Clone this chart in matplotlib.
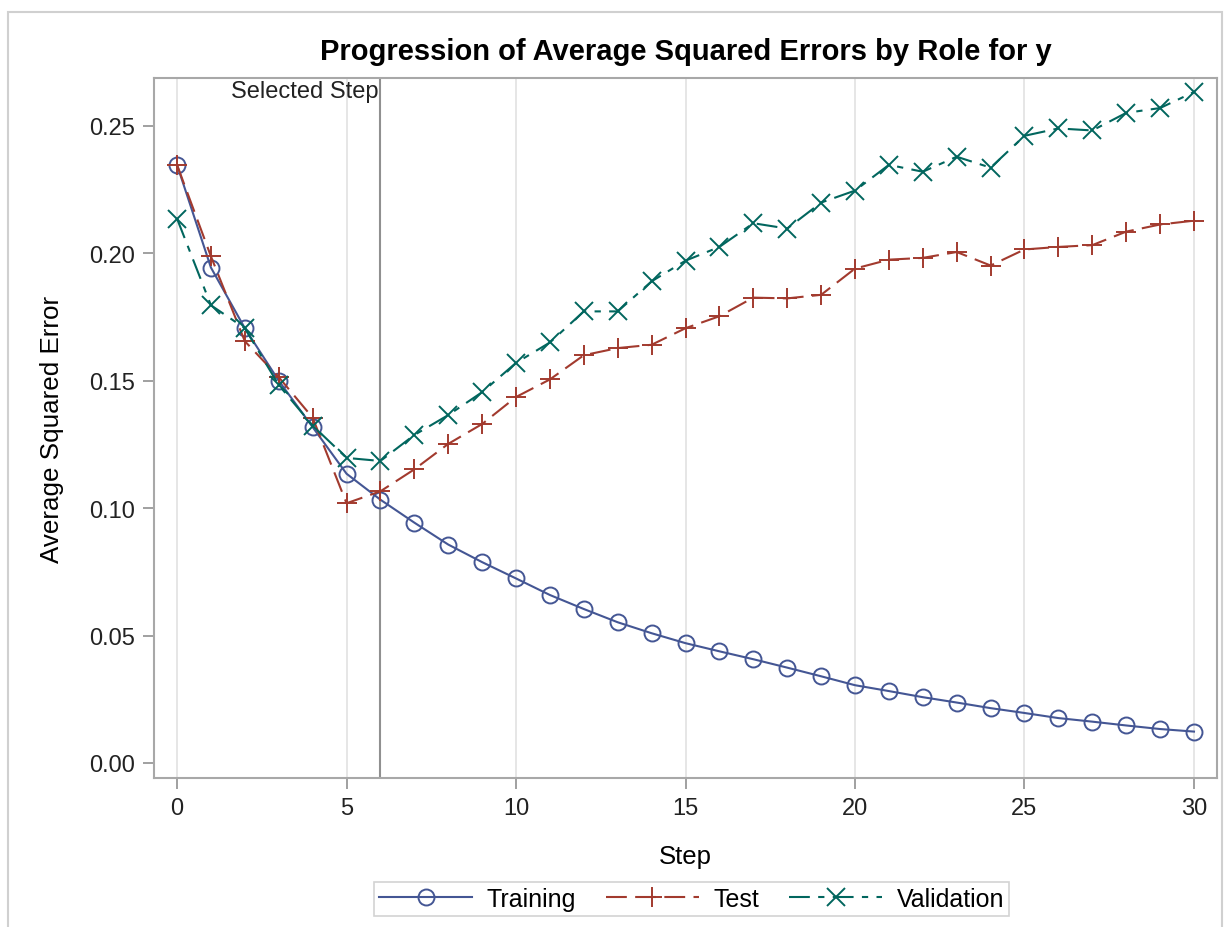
import matplotlib
matplotlib.use("Agg")
import matplotlib.pyplot as plt
from matplotlib.patches import Rectangle

plt.rcParams['font.family'] = ['Liberation Sans', 'DejaVu Sans']

# data
steps = list(range(31))
training = [0.2347, 0.1944, 0.1706, 0.1500, 0.1318, 0.1135, 0.1033, 0.0943, 0.0857,
            0.0788, 0.0724, 0.0659, 0.0604, 0.0552, 0.0509, 0.0470, 0.0438, 0.0407,
            0.0374, 0.0340, 0.0305, 0.0282, 0.0258, 0.0237, 0.0215, 0.0196, 0.0176,
            0.0162, 0.0147, 0.0133, 0.0123]
test = [0.2347, 0.1988, 0.1655, 0.1514, 0.1355, 0.1019, 0.1066, 0.1152, 0.1252,
        0.1330, 0.1436, 0.1505, 0.1600, 0.1628, 0.1641, 0.1706, 0.1753, 0.1826,
        0.1823, 0.1837, 0.1940, 0.1975, 0.1982, 0.2005, 0.1952, 0.2015, 0.2025,
        0.2032, 0.2085, 0.2113, 0.2128]
validation = [0.2136, 0.1796, 0.1706, 0.1483, 0.1324, 0.1197, 0.1185, 0.1287, 0.1365,
              0.1455, 0.1570, 0.1650, 0.1772, 0.1772, 0.1890, 0.1971, 0.2025, 0.2118,
              0.2097, 0.2199, 0.2246, 0.2347, 0.2320, 0.2379, 0.2336, 0.2461, 0.2490,
              0.2482, 0.2551, 0.2570, 0.2633]
selected_step = 6

x_ticks = [0, 5, 10, 15, 20, 25, 30]
y_ticks = [0.00, 0.05, 0.10, 0.15, 0.20, 0.25]

fig = plt.figure(figsize=(12.25, 9.28), dpi=100)
ax = fig.add_axes([0.1257, 0.1606, 0.8678, 0.7543])

# outer frame of the graph
fig.patches.append(Rectangle((8 / 1225, -0.02), 1214 / 1225, 1.02 - 13 / 928,
                             transform=fig.transFigure, fill=False,
                             edgecolor='#D0D0D0', linewidth=1.5))

ax.plot(steps, training, color='#445694', linestyle='-', linewidth=1.5,
        marker='o', markersize=11.5, markerfacecolor='none', markeredgewidth=1.4,
        label='Training', zorder=3)
ax.plot(steps, test, color='#A23A2E', linestyle=(0, (10, 4)), linewidth=1.5,
        marker='+', markersize=15, markeredgewidth=1.4, label='Test', zorder=3)
ax.plot(steps, validation, color='#01665E', linestyle=(0, (10, 4, 3, 4)), linewidth=1.5,
        marker='x', markersize=12.5, markeredgewidth=1.4, label='Validation', zorder=3)

ax.axvline(selected_step, color='#909090', linewidth=1.5, zorder=2)
ax.text(selected_step - 0.05, 0.2680, 'Selected Step', ha='right', va='top',
        fontsize=17, color='#222222')

ax.set_xlim(-0.68, 30.68)
ax.set_ylim(-0.0059, 0.2688)
ax.set_xticks(x_ticks)
ax.set_yticks(y_ticks)
ax.set_yticklabels([f'{v:.2f}' for v in y_ticks])
ax.grid(axis='x', color='#E2E2E2', linewidth=1.2)
ax.set_axisbelow(True)

for s in ax.spines.values():
    s.set_color('#A8A8A8')
    s.set_linewidth(1.5)
ax.tick_params(axis='both', colors='#909090', labelcolor='#222222',
               labelsize=17, length=8, width=1.2, pad=6)

ax.set_title('Progression of Average Squared Errors by Role for y',
             fontsize=21, fontweight='bold', pad=14)
ax.set_xlabel('Step', fontsize=18.5, labelpad=18)
ax.set_ylabel('Average Squared Error', fontsize=18.7, labelpad=18)

leg = ax.legend(loc='upper center', bbox_to_anchor=(0.506, -0.131), ncol=3,
                fontsize=18, frameon=True, fancybox=False, handlelength=3.7,
                columnspacing=1.2, handletextpad=0.6, borderpad=0.2)
leg.get_frame().set_edgecolor('#C8C8C8')
leg.get_frame().set_linewidth(1.2)

fig.savefig('out.png', dpi=100)
